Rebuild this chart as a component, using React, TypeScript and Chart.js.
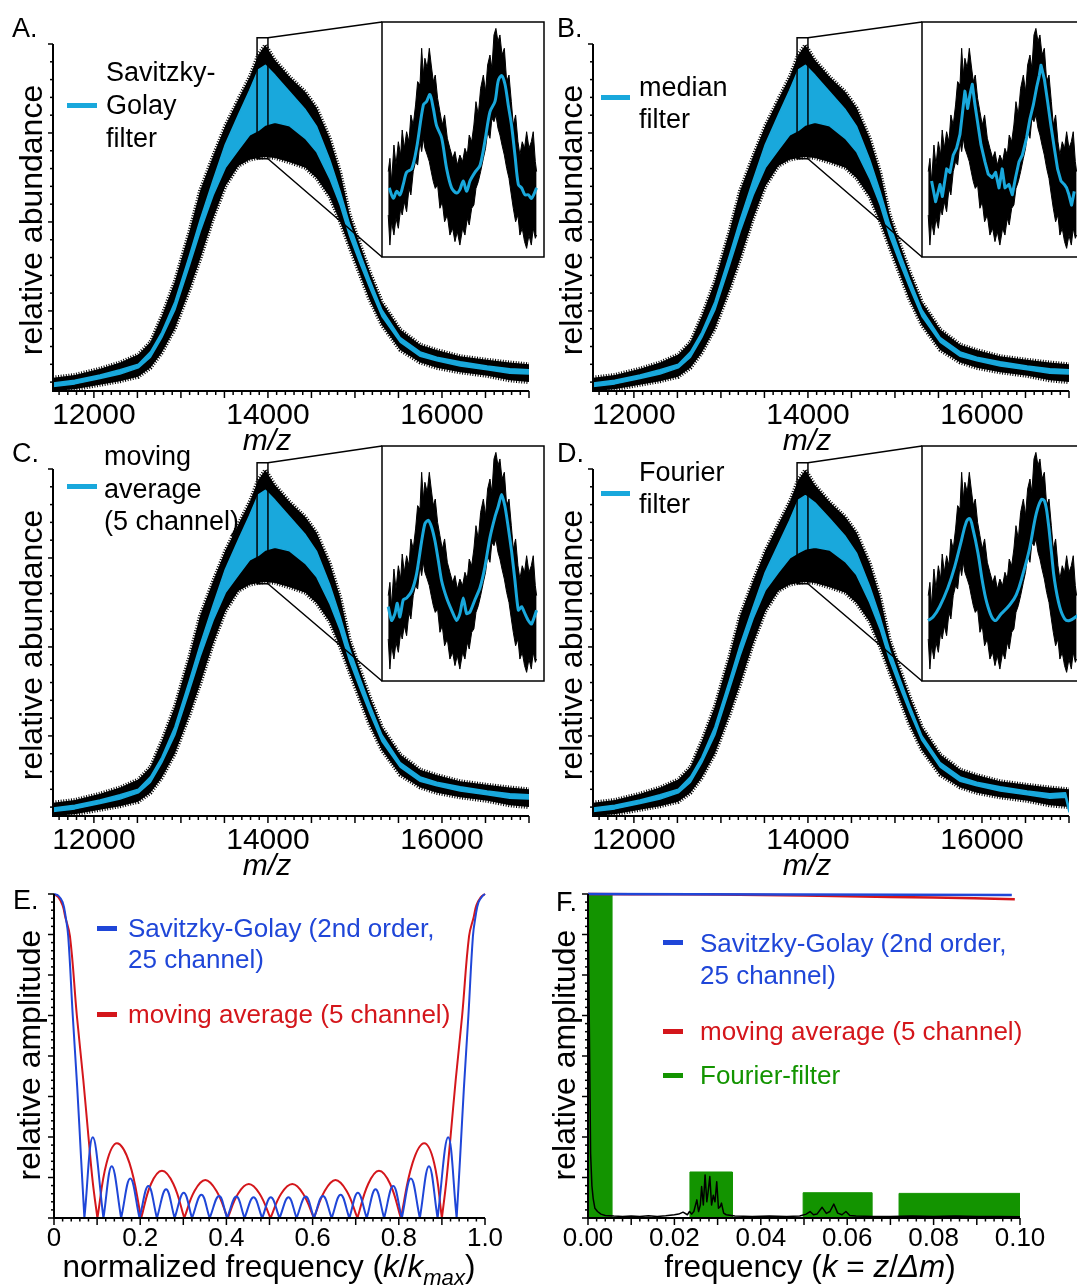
import React, { useEffect, useRef } from 'react';
import { Chart, registerables } from 'chart.js';

Chart.register(...registerables);

const CW = 1100;
const CH = 1287;
const FONT = '"Liberation Sans", Arial, Helvetica, sans-serif';
const CYAN = '#19a8dc';
const BLUE = '#1f46d8';
const RED = '#d4161b';
const GREEN = '#139400';

// ---------------- Panels A–D : spectrum (m/z vs relative abundance) ----------------
const mzMain = [11530, 11780, 12070, 12300, 12510, 12650, 12780, 12930, 13100, 13220, 13370, 13510, 13660, 13790, 13890, 13970, 14080, 14250, 14430, 14560, 14710, 14830, 14940, 15060, 15170, 15310, 15520, 15750, 15940, 16210, 16520, 16780, 17000];
const rawUpper = [0.25, 0.28, 0.35, 0.42, 0.51, 0.65, 0.94, 1.33, 1.90, 2.35, 2.74, 3.08, 3.38, 3.63, 3.88, 3.99, 3.82, 3.63, 3.46, 3.28, 2.94, 2.56, 2.08, 1.74, 1.44, 1.10, 0.79, 0.62, 0.56, 0.49, 0.45, 0.42, 0.40];
const rawLower = [0.10, 0.12, 0.17, 0.21, 0.26, 0.36, 0.53, 0.80, 1.24, 1.58, 2.04, 2.40, 2.63, 2.70, 2.72, 2.73, 2.72, 2.67, 2.61, 2.49, 2.28, 2.00, 1.71, 1.40, 1.12, 0.84, 0.56, 0.42, 0.36, 0.31, 0.27, 0.22, 0.20];
const smoothUpper = [0.19, 0.22, 0.28, 0.34, 0.40, 0.54, 0.76, 1.10, 1.63, 2.02, 2.47, 2.87, 3.20, 3.48, 3.71, 3.76, 3.65, 3.46, 3.26, 3.07, 2.70, 2.34, 1.97, 1.64, 1.35, 1.01, 0.70, 0.54, 0.48, 0.43, 0.38, 0.35, 0.34];
const smoothLower = [0.15, 0.18, 0.24, 0.29, 0.36, 0.48, 0.70, 1.01, 1.52, 1.89, 2.30, 2.61, 2.81, 2.98, 3.03, 3.09, 3.12, 3.08, 2.94, 2.79, 2.49, 2.19, 1.84, 1.53, 1.26, 0.94, 0.65, 0.49, 0.44, 0.38, 0.34, 0.30, 0.29];
// D: Fourier filter (extra point before the last one: edge artefact)
const mzFourier = [11530, 11780, 12070, 12300, 12510, 12650, 12780, 12930, 13100, 13220, 13370, 13510, 13660, 13790, 13890, 13970, 14080, 14250, 14430, 14560, 14710, 14830, 14940, 15060, 15170, 15310, 15520, 15750, 15940, 16210, 16520, 16780, 16960, 17000];
const fourierUpper = [0.19, 0.22, 0.28, 0.34, 0.40, 0.54, 0.76, 1.10, 1.63, 2.02, 2.45, 2.84, 3.15, 3.42, 3.65, 3.70, 3.62, 3.44, 3.24, 3.05, 2.68, 2.33, 1.96, 1.63, 1.34, 1.00, 0.70, 0.54, 0.48, 0.43, 0.38, 0.35, 0.36, 0.20];
const fourierLower = [0.15, 0.18, 0.24, 0.29, 0.36, 0.48, 0.70, 1.01, 1.53, 1.90, 2.32, 2.64, 2.84, 3.00, 3.06, 3.10, 3.12, 3.09, 2.96, 2.81, 2.50, 2.20, 1.85, 1.54, 1.27, 0.95, 0.65, 0.49, 0.44, 0.38, 0.34, 0.30, 0.31, 0.14];
const mainTickLabels = [12000, 14000, 16000];

const zoomMz = [13875, 14000];
const zoomVal = [2.71, 4.07];

// insets (zoom window)
const insetRawMz = [13879.8, 13881.1, 13882.4, 13884.2, 13885.8, 13887.6, 13889.4, 13890.6, 13892.2, 13894.0, 13895.8, 13897.3, 13899.1, 13900.9, 13902.5, 13904.3, 13905.6, 13906.9, 13908.1, 13909.9, 13911.5, 13913.0, 13914.6, 13916.1, 13917.9, 13919.7, 13921.5, 13923.3, 13925.4, 13927.4, 13929.5, 13931.3, 13933.1, 13935.1, 13937.2, 13939.0, 13940.8, 13942.3, 13944.2, 13945.9, 13947.5, 13949.3, 13951.1, 13953.2, 13954.9, 13956.5, 13958.3, 13959.8, 13961.4, 13962.9, 13964.5, 13966.0, 13967.6, 13969.4, 13971.2, 13973.0, 13974.8, 13976.3, 13978.1, 13979.9, 13981.4, 13983.2, 13985.0, 13986.6, 13988.4, 13990.2, 13991.7, 13993.3, 13994.3];
const insetRawUpper = [3.204, 3.281, 3.146, 3.358, 3.242, 3.377, 3.300, 3.445, 3.339, 3.435, 3.377, 3.532, 3.474, 3.590, 3.725, 3.705, 3.918, 3.763, 3.860, 3.802, 3.918, 3.821, 3.725, 3.763, 3.628, 3.551, 3.474, 3.532, 3.397, 3.339, 3.281, 3.320, 3.242, 3.300, 3.262, 3.339, 3.300, 3.416, 3.377, 3.474, 3.609, 3.532, 3.686, 3.763, 3.667, 3.821, 3.879, 3.802, 3.995, 4.033, 3.956, 3.995, 3.879, 3.918, 3.725, 3.763, 3.609, 3.474, 3.532, 3.377, 3.300, 3.377, 3.339, 3.435, 3.339, 3.377, 3.435, 3.262, 3.204];
const insetRawLower = [2.953, 2.779, 2.914, 2.837, 2.934, 2.876, 2.992, 2.953, 3.030, 2.972, 3.107, 3.069, 3.204, 3.262, 3.242, 3.377, 3.320, 3.397, 3.339, 3.300, 3.262, 3.204, 3.146, 3.107, 3.127, 2.992, 3.030, 2.914, 2.953, 2.837, 2.876, 2.799, 2.857, 2.779, 2.876, 2.837, 2.934, 2.895, 2.992, 3.011, 3.107, 3.146, 3.204, 3.281, 3.339, 3.435, 3.397, 3.513, 3.493, 3.532, 3.455, 3.416, 3.358, 3.300, 3.223, 3.165, 3.069, 2.992, 2.914, 2.953, 2.837, 2.876, 2.799, 2.760, 2.837, 2.779, 2.876, 2.818, 2.837];

const sgInsetMz = [13880.6, 13883.7, 13886.3, 13888.9, 13891.4, 13894.0, 13897.9, 13901.7, 13906.9, 13909.4, 13912.0, 13914.6, 13917.1, 13921.0, 13924.9, 13928.7, 13932.6, 13935.1, 13937.7, 13940.3, 13942.9, 13946.7, 13950.6, 13954.4, 13958.3, 13962.2, 13964.7, 13967.3, 13969.9, 13972.4, 13975.0, 13977.6, 13980.2, 13982.7, 13985.3, 13987.9, 13990.4, 13994.3];
const sgInsetVal = [3.11, 3.05, 3.09, 3.07, 3.13, 3.20, 3.22, 3.34, 3.59, 3.61, 3.65, 3.57, 3.47, 3.40, 3.22, 3.11, 3.08, 3.10, 3.15, 3.09, 3.15, 3.20, 3.24, 3.38, 3.55, 3.61, 3.73, 3.76, 3.71, 3.59, 3.47, 3.30, 3.13, 3.11, 3.07, 3.07, 3.05, 3.11];

const medInsetMz = [13882.4, 13885.5, 13888.9, 13890.7, 13894.0, 13896.6, 13899.1, 13901.7, 13904.3, 13906.3, 13908.1, 13910.2, 13912.0, 13913.8, 13915.9, 13917.9, 13920.5, 13923.6, 13926.1, 13929.2, 13931.8, 13934.4, 13936.9, 13939.0, 13942.1, 13944.7, 13947.2, 13949.8, 13952.4, 13955.7, 13958.3, 13960.9, 13963.4, 13965.5, 13966.8, 13969.4, 13971.9, 13974.5, 13977.1, 13979.6, 13982.2, 13984.8, 13986.6, 13988.4, 13990.4, 13992.5];
const medInsetVal = [3.15, 3.03, 3.13, 3.06, 3.22, 3.20, 3.30, 3.34, 3.42, 3.55, 3.67, 3.57, 3.65, 3.71, 3.59, 3.49, 3.36, 3.26, 3.19, 3.17, 3.20, 3.11, 3.22, 3.11, 3.13, 3.07, 3.17, 3.26, 3.30, 3.40, 3.51, 3.59, 3.69, 3.76, 3.82, 3.74, 3.61, 3.47, 3.34, 3.22, 3.15, 3.13, 3.11, 3.07, 3.01, 3.09];

const maInsetMz = [13879.8, 13882.4, 13885.0, 13886.8, 13888.8, 13891.4, 13894.0, 13897.9, 13901.7, 13905.6, 13908.1, 13910.7, 13913.3, 13915.9, 13918.4, 13921.0, 13924.9, 13928.7, 13932.6, 13935.1, 13937.7, 13940.3, 13942.9, 13946.7, 13950.6, 13954.4, 13958.3, 13962.2, 13964.7, 13967.3, 13969.9, 13972.4, 13975.0, 13977.6, 13980.2, 13982.7, 13985.3, 13987.9, 13990.4, 13994.3];
const maInsetVal = [3.14, 3.06, 3.10, 3.16, 3.08, 3.18, 3.19, 3.23, 3.33, 3.52, 3.62, 3.64, 3.60, 3.52, 3.41, 3.29, 3.19, 3.12, 3.06, 3.10, 3.19, 3.10, 3.11, 3.18, 3.25, 3.37, 3.54, 3.66, 3.72, 3.79, 3.72, 3.60, 3.46, 3.29, 3.12, 3.14, 3.10, 3.06, 3.04, 3.12];

const ffInsetMz = [13879.6, 13883.5, 13888.6, 13895.0, 13900.2, 13905.3, 13909.2, 13911.8, 13914.3, 13918.2, 13922.0, 13925.9, 13931.0, 13936.2, 13942.6, 13947.8, 13952.9, 13958.1, 13963.2, 13967.1, 13969.6, 13972.2, 13974.8, 13977.3, 13981.2, 13985.1, 13988.9, 13995.3];
const ffInsetVal = [3.06, 3.08, 3.14, 3.25, 3.37, 3.52, 3.63, 3.65, 3.59, 3.45, 3.27, 3.14, 3.06, 3.10, 3.15, 3.21, 3.33, 3.48, 3.68, 3.76, 3.75, 3.64, 3.46, 3.29, 3.14, 3.07, 3.06, 3.09];

// ---------------- Panel E : frequency response ----------------
const eTickLabels = [0, 0.2, 0.4, 0.6, 0.8, 1.0];
const eSgFreq = [0, 0.01, 0.02, 0.027, 0.033, 0.0435, 0.054, 0.063, 0.0705, 0.0705, 0.09, 0.1147, 0.1147, 0.134, 0.1558, 0.1558, 0.177, 0.1984, 0.1984, 0.219, 0.2388, 0.2388, 0.26, 0.2798, 0.2798, 0.301, 0.3202, 0.3202, 0.342, 0.3612, 0.3612, 0.383, 0.4016, 0.4016, 0.423, 0.4419, 0.4419, 0.463, 0.483, 0.483, 0.503, 0.5233, 0.5233, 0.544, 0.5628, 0.5628, 0.584, 0.6031, 0.6031, 0.624, 0.6442, 0.6442, 0.665, 0.6853, 0.6853, 0.705, 0.7256, 0.7256, 0.746, 0.7659, 0.7659, 0.787, 0.807, 0.807, 0.828, 0.8488, 0.8488, 0.87, 0.89, 0.89, 0.9145, 0.9342, 0.9342, 0.942, 0.951, 0.9615, 0.972, 0.978, 0.985, 0.995, 1];
const eSgAmp = [1, 0.995, 0.975, 0.93, 0.87, 0.625, 0.4, 0.18, 0, 0, 0.249, 0, 0, 0.16, 0, 0, 0.122, 0, 0, 0.099, 0, 0, 0.089, 0, 0, 0.078, 0, 0, 0.072, 0, 0, 0.068, 0, 0, 0.066, 0, 0, 0.064, 0, 0, 0.064, 0, 0, 0.064, 0, 0, 0.066, 0, 0, 0.068, 0, 0, 0.072, 0, 0, 0.078, 0, 0, 0.089, 0, 0, 0.099, 0, 0, 0.122, 0, 0, 0.16, 0, 0, 0.249, 0, 0, 0.18, 0.4, 0.625, 0.87, 0.93, 0.975, 0.995, 1];
const eMaFreq = [0, 0.01, 0.02, 0.026, 0.037, 0.053, 0.068, 0.08, 0.09, 0.1007, 0.1007, 0.122, 0.146, 0.175, 0.2023, 0.2023, 0.225, 0.2505, 0.277, 0.3023, 0.3023, 0.326, 0.351, 0.377, 0.403, 0.403, 0.427, 0.452, 0.477, 0.5023, 0.5023, 0.527, 0.553, 0.578, 0.603, 0.603, 0.628, 0.653, 0.679, 0.704, 0.704, 0.729, 0.754, 0.78, 0.8047, 0.8047, 0.832, 0.859, 0.882, 0.9, 0.9, 0.91, 0.92, 0.932, 0.947, 0.963, 0.974, 0.98, 0.99, 1];
const eMaAmp = [1, 0.99, 0.965, 0.93, 0.87, 0.625, 0.426, 0.25, 0.11, 0, 0, 0.17, 0.231, 0.17, 0, 0, 0.105, 0.146, 0.105, 0, 0, 0.083, 0.117, 0.083, 0, 0, 0.075, 0.105, 0.075, 0, 0, 0.075, 0.105, 0.075, 0, 0, 0.083, 0.117, 0.083, 0, 0, 0.105, 0.146, 0.105, 0, 0, 0.17, 0.231, 0.17, 0, 0, 0.11, 0.25, 0.426, 0.625, 0.87, 0.93, 0.965, 0.99, 1];

// ---------------- Panel F : spectrum of the data ----------------
const fTickLabels = [0, 0.02, 0.04, 0.06, 0.08, 0.1];
const fFreq = [0, 0.0003, 0.0006, 0.0009, 0.0012, 0.0016, 0.0022, 0.003, 0.004, 0.006, 0.008, 0.01, 0.012, 0.014, 0.016, 0.018, 0.02, 0.021, 0.022, 0.023, 0.0235, 0.024, 0.0245, 0.0252, 0.0256, 0.026, 0.0263, 0.0267, 0.0271, 0.0275, 0.0278, 0.0282, 0.0286, 0.029, 0.0294, 0.0298, 0.0302, 0.0306, 0.0309, 0.0314, 0.032, 0.034, 0.038, 0.042, 0.046, 0.049, 0.0505, 0.0514, 0.0522, 0.053, 0.0542, 0.0552, 0.056, 0.0569, 0.0578, 0.0588, 0.0597, 0.0606, 0.062, 0.066, 0.07, 0.075, 0.08, 0.085, 0.09, 0.095, 0.1];
const fAmp = [1, 0.6, 0.2, 0.1, 0.06, 0.03, 0.02, 0.012, 0.008, 0.006, 0.005, 0.006, 0.005, 0.007, 0.005, 0.007, 0.01, 0.012, 0.018, 0.01, 0.02, 0.012, 0.02, 0.056, 0.02, 0.04, 0.097, 0.04, 0.133, 0.05, 0.08, 0.128, 0.04, 0.07, 0.05, 0.112, 0.03, 0.035, 0.046, 0.015, 0.01, 0.006, 0.005, 0.006, 0.005, 0.006, 0.012, 0.02, 0.01, 0.012, 0.033, 0.014, 0.02, 0.043, 0.015, 0.01, 0.02, 0.008, 0.006, 0.005, 0.005, 0.006, 0.005, 0.006, 0.005, 0.005, 0.004];
const maskFreq = [0, 0, 0.0055, 0.0055, 0.0236, 0.0236, 0.0334, 0.0334, 0.0498, 0.0498, 0.0657, 0.0657, 0.072, 0.072, 0.1002, 0.1002];
const maskAmp = [0, 1, 1, 0, 0, 0.142, 0.142, 0, 0, 0.078, 0.078, 0, 0, 0.076, 0.076, 0];
const fSgFreq = [0, 0.0981];
const fSgAmp = [1, 0.997];
const fMaFreq = [0, 0.02, 0.04, 0.06, 0.08, 0.0988];
const fMaAmp = [1, 0.999, 0.997, 0.993, 0.989, 0.984];

// ---------------- helpers ----------------
const xy = (xs: number[], ys: number[]) => xs.map((x, i) => ({ x, y: ys[i] }));

type Area = { l: number; t: number; r: number; b: number };
type TickSpec = { minor: number; major: number; minorLen: number; majorLen: number };

function decoPlugin(spec: any) {
  return {
    id: 'deco',
    afterDraw(chart: any) {
      const { ctx, chartArea: a } = chart;
      const xs = chart.scales.x;
      const ys = chart.scales.y;
      ctx.save();
      ctx.strokeStyle = '#000';
      ctx.lineCap = 'butt';
      ctx.setLineDash([]);
      if (spec.frame) {
        ctx.lineWidth = 1.5;
        ctx.strokeRect(a.left, a.top, a.right - a.left, a.bottom - a.top);
      }
      const ticks = (s: TickSpec, scale: any, horiz: boolean) => {
        ctx.lineWidth = 1.5;
        const k0 = Math.ceil(scale.min / s.minor - 1e-6);
        const k1 = Math.floor(scale.max / s.minor + 1e-6);
        for (let k = k0; k <= k1; k++) {
          const v = k * s.minor;
          const r = v / s.major;
          const major = Math.abs(r - Math.round(r)) < 1e-6;
          const len = major ? s.majorLen : s.minorLen;
          const p = scale.getPixelForValue(v);
          ctx.beginPath();
          if (horiz) {
            ctx.moveTo(p, a.bottom);
            ctx.lineTo(p, a.bottom + len);
          } else {
            ctx.moveTo(a.left, p);
            ctx.lineTo(a.left - len, p);
          }
          ctx.stroke();
        }
      };
      if (spec.x) ticks(spec.x, xs, true);
      if (spec.y) ticks(spec.y, ys, false);
      if (spec.axes) {
        ctx.lineWidth = 2;
        ctx.beginPath();
        ctx.moveTo(a.left, a.top);
        ctx.lineTo(a.left, a.bottom);
        ctx.lineTo(a.right, a.bottom);
        ctx.stroke();
      }
      if (spec.zoom) {
        const z = spec.zoom;
        const x0 = xs.getPixelForValue(zoomMz[0]);
        const x1 = xs.getPixelForValue(zoomMz[1]);
        const yTop = ys.getPixelForValue(zoomVal[1]);
        const yBot = ys.getPixelForValue(zoomVal[0]);
        ctx.lineWidth = 1.5;
        ctx.strokeRect(x0, yTop, x1 - x0, yBot - yTop);
        ctx.beginPath();
        ctx.moveTo(x1, yTop);
        ctx.lineTo(z.l, z.t);
        ctx.moveTo(x1, yBot);
        ctx.lineTo(z.l, z.b);
        ctx.stroke();
      }
      ctx.restore();
    },
  };
}

function baseOptions(area: Area, xh: number, x: any, y: any) {
  return {
    responsive: false,
    animation: false,
    events: [],
    layout: { padding: { left: area.l, top: area.t, right: CW - area.r, bottom: CH - area.b - xh } },
    elements: { point: { radius: 0 }, line: { borderJoinStyle: 'round' } },
    plugins: { legend: { display: false }, tooltip: { enabled: false }, title: { display: false } },
    scales: { x, y },
  };
}

function labeledX(min: number, max: number, labels: number[], size: number, pad: number, xh: number, fmt: (v: number) => string) {
  return {
    type: 'linear',
    min,
    max,
    display: true,
    grid: { display: false, drawTicks: false },
    border: { display: false },
    afterBuildTicks: (s: any) => {
      s.ticks = labels.map((v) => ({ value: v }));
    },
    ticks: {
      autoSkip: false,
      maxRotation: 0,
      padding: pad,
      color: '#000',
      font: { family: FONT, size },
      callback: (v: any) => fmt(Number(v)),
    },
    afterFit: (s: any) => {
      s.height = xh;
    },
  };
}

// noisy edge of the raw trace: thick dashed border -> hair-like texture
const HAIR = { borderWidth: 4, borderDash: [1, 1.6] };

function mainChart(canvas: HTMLCanvasElement, area: Area, inset: Area, mz: number[], upper: number[], lower: number[]) {
  const XH = 50;
  return new Chart(canvas, {
    type: 'line',
    data: {
      datasets: [
        { data: xy(mz, upper), borderColor: CYAN, backgroundColor: CYAN, borderWidth: 1.5, fill: '+1', tension: 0 },
        { data: xy(mz, lower), borderColor: CYAN, borderWidth: 1.5, fill: false, tension: 0 },
        { data: xy(mzMain, rawUpper), borderColor: '#000', backgroundColor: '#000', ...HAIR, fill: '+1', tension: 0 },
        { data: xy(mzMain, rawLower), borderColor: '#000', ...HAIR, fill: false, tension: 0 },
      ],
    },
    options: baseOptions(
      area,
      XH,
      labeledX(11530, 17000, mainTickLabels, 30, 7, XH, (v) => String(v)),
      { type: 'linear', min: 0.1, max: 4.0, display: false }
    ) as any,
    plugins: [
      decoPlugin({
        axes: true,
        x: { minor: 100, major: 500, minorLen: 4, majorLen: 7 },
        y: { minor: 0.2, major: 1, minorLen: 3, majorLen: 5 },
        zoom: inset,
      }),
    ],
  });
}

function insetChart(canvas: HTMLCanvasElement, area: Area, mz: number[], val: number[], tension: number) {
  return new Chart(canvas, {
    type: 'line',
    data: {
      datasets: [
        { data: xy(mz, val), borderColor: CYAN, borderWidth: 3, fill: false, tension },
        { data: xy(insetRawMz, insetRawUpper), borderColor: '#000', backgroundColor: '#000', borderWidth: 1, fill: '+1', tension: 0 },
        { data: xy(insetRawMz, insetRawLower), borderColor: '#000', borderWidth: 1, fill: false, tension: 0 },
      ],
    },
    options: baseOptions(
      area,
      0,
      { type: 'linear', min: zoomMz[0], max: zoomMz[1], display: false },
      { type: 'linear', min: zoomVal[0], max: zoomVal[1], display: false }
    ) as any,
    plugins: [decoPlugin({ frame: true })],
  });
}

function eChart(canvas: HTMLCanvasElement) {
  const XH = 45;
  const area = { l: 54, t: 894, r: 485, b: 1218 };
  return new Chart(canvas, {
    type: 'line',
    data: {
      datasets: [
        { data: xy(eSgFreq, eSgAmp), borderColor: BLUE, borderWidth: 2, fill: false, tension: 0.4, clip: 3 },
        { data: xy(eMaFreq, eMaAmp), borderColor: RED, borderWidth: 2, fill: false, tension: 0.4, clip: 3 },
      ],
    },
    options: baseOptions(
      area,
      XH,
      labeledX(0, 1, eTickLabels, 26, 5, XH, (v) => (v === 0 ? '0' : v.toFixed(1))),
      { type: 'linear', min: 0, max: 1, display: false }
    ) as any,
    plugins: [
      decoPlugin({
        axes: true,
        x: { minor: 0.02, major: 0.1, minorLen: 3.5, majorLen: 7 },
        y: { minor: 0.025, major: 0.125, minorLen: 3, majorLen: 6 },
      }),
    ],
  });
}

function fChart(canvas: HTMLCanvasElement) {
  const XH = 45;
  const area = { l: 588, t: 894, r: 1020, b: 1218 };
  return new Chart(canvas, {
    type: 'line',
    data: {
      datasets: [
        { data: xy(fFreq, fAmp), borderColor: '#000', borderWidth: 1.5, fill: false, tension: 0, clip: 3 },
        { data: xy(fSgFreq, fSgAmp), borderColor: BLUE, borderWidth: 2.5, fill: false, tension: 0, clip: 3 },
        { data: xy(fMaFreq, fMaAmp), borderColor: RED, borderWidth: 2.5, fill: false, tension: 0.3, clip: 3 },
        { data: xy(maskFreq, maskAmp), borderColor: GREEN, backgroundColor: GREEN, borderWidth: 1, fill: 'origin', tension: 0 },
      ],
    },
    options: baseOptions(
      area,
      XH,
      labeledX(0, 0.1, fTickLabels, 26, 5, XH, (v) => v.toFixed(2)),
      { type: 'linear', min: 0, max: 1, display: false }
    ) as any,
    plugins: [
      decoPlugin({
        axes: true,
        x: { minor: 0.002, major: 0.01, minorLen: 3.5, majorLen: 7 },
        y: { minor: 0.025, major: 0.125, minorLen: 3, majorLen: 6 },
      }),
    ],
  });
}

// ---------------- layout ----------------
const panels = [
  { area: { l: 53, t: 44, r: 529, b: 391 }, inset: { l: 382, t: 22, r: 544, b: 257 }, mz: mzMain, up: smoothUpper, lo: smoothLower, imz: sgInsetMz, ival: sgInsetVal, ten: 0.3 },
  { area: { l: 593, t: 44, r: 1069, b: 391 }, inset: { l: 922, t: 22, r: 1084, b: 257 }, mz: mzMain, up: smoothUpper, lo: smoothLower, imz: medInsetMz, ival: medInsetVal, ten: 0 },
  { area: { l: 53, t: 469, r: 529, b: 816 }, inset: { l: 382, t: 446, r: 544, b: 681 }, mz: mzMain, up: smoothUpper, lo: smoothLower, imz: maInsetMz, ival: maInsetVal, ten: 0.2 },
  { area: { l: 593, t: 469, r: 1069, b: 816 }, inset: { l: 922, t: 446, r: 1084, b: 681 }, mz: mzFourier, up: fourierUpper, lo: fourierLower, imz: ffInsetMz, ival: ffInsetVal, ten: 0.4 },
];

type TP = { x: number; y: number; size: number; lh?: number; color?: string; italic?: boolean; center?: boolean; children: any };
function Txt({ x, y, size, lh, color = '#000', italic = false, center = false, children }: TP) {
  const L = lh ?? Math.round(size * 1.2);
  const top = y - (L / 2 + 0.3465 * size);
  return (
    <div
      style={{
        position: 'absolute',
        left: x,
        top,
        fontFamily: FONT,
        fontSize: size,
        lineHeight: `${L}px`,
        color,
        fontStyle: italic ? 'italic' : 'normal',
        whiteSpace: 'nowrap',
        transform: center ? 'translateX(-50%)' : undefined,
      }}
    >
      {children}
    </div>
  );
}

function VTxt({ cx, cy, size, children }: any) {
  return (
    <div
      style={{
        position: 'absolute',
        left: cx,
        top: cy,
        transform: 'translate(-50%, -50%) rotate(-90deg)',
        fontFamily: FONT,
        fontSize: size,
        lineHeight: `${size * 1.2}px`,
        whiteSpace: 'nowrap',
        color: '#000',
      }}
    >
      {children}
    </div>
  );
}

function Dash({ x, y, w, h, color }: any) {
  return <div style={{ position: 'absolute', left: x, top: y, width: w, height: h, background: color }} />;
}

export default function App() {
  const cv = useRef<(HTMLCanvasElement | null)[]>([]);

  useEffect(() => {
    const c = cv.current;
    const charts: Chart[] = [];
    panels.forEach((p, i) => {
      charts.push(mainChart(c[i * 2] as HTMLCanvasElement, p.area, p.inset, p.mz, p.up, p.lo));
      charts.push(insetChart(c[i * 2 + 1] as HTMLCanvasElement, p.inset, p.imz, p.ival, p.ten));
    });
    charts.push(eChart(c[8] as HTMLCanvasElement));
    charts.push(fChart(c[9] as HTMLCanvasElement));
    return () => charts.forEach((ch) => ch.destroy());
  }, []);

  const LS = 27;
  return (
    <div style={{ position: 'absolute', left: 0, top: 0, width: 1077, height: 1287, overflow: 'hidden', background: '#fff' }}>
      {Array.from({ length: 10 }).map((_, i) => (
        <canvas
          key={i}
          ref={(el) => {
            cv.current[i] = el;
          }}
          width={CW}
          height={CH}
          style={{ position: 'absolute', left: 0, top: 0 }}
        />
      ))}

      <Txt x={12} y={37} size={LS}>A.</Txt>
      <Txt x={557} y={37} size={LS}>B.</Txt>
      <Txt x={12} y={462} size={LS}>C.</Txt>
      <Txt x={557} y={462} size={LS}>D.</Txt>
      <Txt x={13} y={909} size={LS}>E.</Txt>
      <Txt x={556} y={911} size={LS}>F.</Txt>

      <VTxt cx={31} cy={220} size={32}>relative abundance</VTxt>
      <VTxt cx={571} cy={220} size={32}>relative abundance</VTxt>
      <VTxt cx={31} cy={645} size={32}>relative abundance</VTxt>
      <VTxt cx={571} cy={645} size={32}>relative abundance</VTxt>
      <VTxt cx={29} cy={1055} size={32}>relative amplitude</VTxt>
      <VTxt cx={564} cy={1055} size={32}>relative amplitude</VTxt>

      <Txt x={267} y={450} size={30} italic center>m/z</Txt>
      <Txt x={807} y={450} size={30} italic center>m/z</Txt>
      <Txt x={267} y={875} size={30} italic center>m/z</Txt>
      <Txt x={807} y={875} size={30} italic center>m/z</Txt>
      <Txt x={269} y={1277} size={31.5} center>
        normalized frequency (<i>k</i>/<i>k</i>
        <span style={{ fontSize: '0.7em', position: 'relative', top: '0.35em', fontStyle: 'italic' }}>max</span>)
      </Txt>
      <Txt x={810} y={1277} size={31.5} center>
        frequency (<i>k</i> = <i>z</i>/<i>Δm</i>)
      </Txt>

      <Dash x={67} y={103} w={30} h={5} color={CYAN} />
      <Txt x={106} y={82} size={LS} lh={33}>
        Savitzky-<br />Golay<br />filter
      </Txt>
      <Dash x={601} y={95} w={29} h={5} color={CYAN} />
      <Txt x={639} y={96} size={LS} lh={32}>
        median<br />filter
      </Txt>
      <Dash x={67} y={484} w={30} h={5} color={CYAN} />
      <Txt x={104} y={466} size={LS} lh={32.5}>
        moving<br />average<br />(5 channel)
      </Txt>
      <Dash x={601} y={491} w={29} h={5} color={CYAN} />
      <Txt x={639} y={481} size={LS} lh={32}>
        Fourier<br />filter
      </Txt>

      <Dash x={97} y={926} w={20} h={5} color={BLUE} />
      <Txt x={128} y={938} size={26} lh={31} color={BLUE}>
        Savitzky-Golay (2nd order,<br />25 channel)
      </Txt>
      <Dash x={97} y={1012} w={20} h={5} color={RED} />
      <Txt x={128} y={1024} size={26} color={RED}>moving average (5 channel)</Txt>

      <Dash x={663} y={940} w={20} h={5} color={BLUE} />
      <Txt x={700} y={952} size={26} lh={32} color={BLUE}>
        Savitzky-Golay (2nd order,<br />25 channel)
      </Txt>
      <Dash x={663} y={1029} w={20} h={5} color={RED} />
      <Txt x={700} y={1041} size={26} color={RED}>moving average (5 channel)</Txt>
      <Dash x={663} y={1073} w={20} h={5} color={GREEN} />
      <Txt x={700} y={1085} size={26} color={GREEN}>Fourier-filter</Txt>
    </div>
  );
}
